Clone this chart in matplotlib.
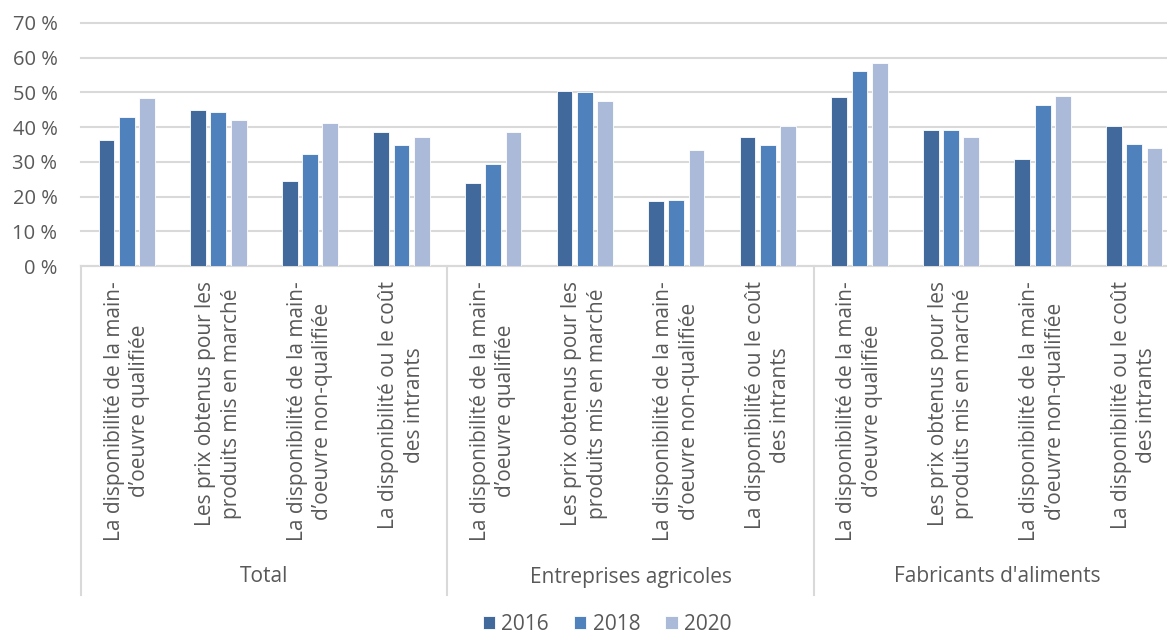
import matplotlib
matplotlib.use("Agg")
import matplotlib.pyplot as plt
import numpy as np

plt.rcParams['font.family'] = ['Open Sans', 'DejaVu Sans']

groups = ["Total", "Entreprises agricoles", "Fabricants d'aliments"]
categories = [
    "La disponibilité de la main-\nd’oeuvre qualifiée",
    "Les prix obtenus pour les\nproduits mis en marché",
    "La disponibilité de la main-\nd’oeuvre non-qualifiée",
    "La disponibilité ou le coût\ndes intrants",
]
years = ["2016", "2018", "2020"]
v2016 = [36.4, 44.8, 24.6, 38.6, 24.0, 50.4, 18.7, 37.1, 48.8, 39.1, 30.7, 40.2]
v2018 = [42.8, 44.5, 32.4, 35.0, 29.3, 50.0, 18.9, 35.0, 56.3, 39.1, 46.3, 35.1]
v2020 = [48.5, 42.2, 41.2, 37.2, 38.5, 47.5, 33.3, 40.4, 58.4, 37.1, 48.9, 34.1]
colors = ["#41699C", "#4F81BD", "#AABAD8"]

W, H = 1167, 635
fig = plt.figure(figsize=(W / 100, H / 100), dpi=100)
left, right, top_px, bot_px = 81, 1180, 23, 266
ax = fig.add_axes([left / W, (H - bot_px) / H, (right - left) / W, (bot_px - top_px) / H])

n = len(v2016)
x = np.arange(n)
step = 0.222
bw = 0.172
for k, (vals, c) in enumerate(zip([v2016, v2018, v2020], colors)):
    ax.bar(x + (k - 1) * step, vals, width=bw, color=c, edgecolor="white",
           linewidth=0.6, label=years[k], zorder=3)

ax.set_xlim(-0.5, n - 0.5)
ax.set_ylim(0, 70)
ax.set_yticks(range(0, 71, 10))
ax.set_yticklabels([f"{t} %" for t in range(0, 71, 10)])
ax.yaxis.grid(True, color="#D9D9D9", linewidth=1.5, zorder=0)
for gl in ax.get_ygridlines():
    gl.set_clip_on(False)
ax.set_axisbelow(True)
for s in ["top", "right", "left"]:
    ax.spines[s].set_visible(False)
ax.spines["bottom"].set_color("#D9D9D9")
ax.spines["bottom"].set_linewidth(1.5)
ax.tick_params(axis="y", length=0, pad=17, labelsize=14.5, labelcolor="#595959")
ax.set_xticks([])

axh = bot_px - top_px
trans = ax.get_xaxis_transform()
for i in range(n):
    ax.text(i, -(281 - bot_px) / axh, categories[i % 4], transform=trans,
            rotation=90, ha="center", va="top", multialignment="center",
            fontsize=15, color="#595959", linespacing=1.28)

for g, name in enumerate(groups):
    ax.text(g * 4 + 1.5, -(577 - bot_px) / axh, name, transform=trans,
            ha="center", va="center", fontsize=15, color="#595959")
for b in [-0.5, 3.5, 7.5, 11.5]:
    ax.plot([b, b], [0, -(595 - bot_px) / axh], transform=trans, color="#D9D9D9",
            linewidth=1.5, clip_on=False)

fig.legend(loc="center", bbox_to_anchor=(607 / W, 1 - 624 / H), ncol=3, frameon=False,
           fontsize=15, handlelength=0.6, handleheight=0.6, handletextpad=0.3,
           columnspacing=1.2, labelcolor="#595959")

fig.savefig("out.png", dpi=100)
